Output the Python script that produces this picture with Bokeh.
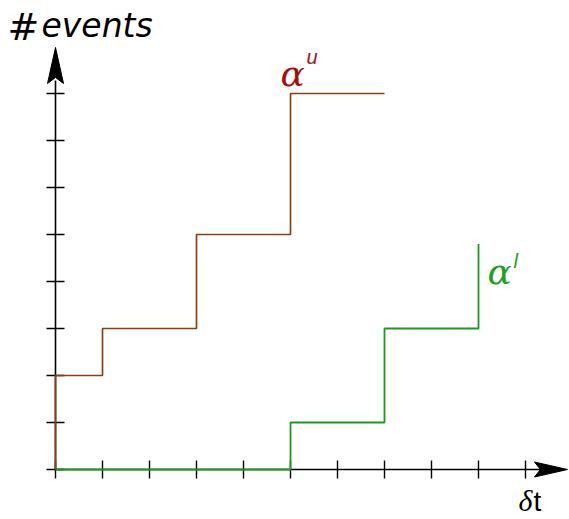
from bokeh.plotting import figure
from bokeh.models import Range1d, FixedTicker
from bokeh.core.properties import value
from bokeh.embed import file_html
from bokeh.resources import INLINE

# ---- data ----
x_ticks = list(range(0, 11))
y_ticks = list(range(0, 9))
upper_dt = [0, 0, 1, 3, 5, 7]
upper_events = [0, 2, 3, 5, 8, 8]
lower_dt = [0, 5, 7, 9]
lower_events = [0, 1, 3, 4.8]
y_title_hash = "#"
y_title_word = "events"
x_title_sym = "δ"
x_title_var = "t"
upper_sym, upper_sup = "α", "u"
lower_sym, lower_sup = "α", "l"

# ---- layout ----
W, H = 569, 519
UNIT = 47.0
OX, OY = 55, 469  # origin in figure pixels (from left / from top)


def X(ix):  # pixel x -> data
    return (ix - OX) / UNIT


def Y(iy):  # pixel y -> data
    return (OY - iy) / UNIT


p = figure(width=W, height=H,
           x_range=Range1d(-OX / UNIT, (W - OX) / UNIT),
           y_range=Range1d(-(H - OY) / UNIT, OY / UNIT),
           min_border=0, outline_line_color=None,
           toolbar_location=None, output_backend="svg")
p.grid.visible = False
p.background_fill_color = "white"
p.border_fill_color = "white"

for ax, ticks, bnd in ((p.xaxis, x_ticks, (0, X(545))), (p.yaxis, y_ticks, (0, Y(80)))):
    ax.fixed_location = 0
    ax.ticker = FixedTicker(ticks=ticks)
    ax.bounds = bnd
    ax.major_tick_in = 9
    ax.major_tick_out = 9
    ax.minor_tick_line_color = None
    ax.major_label_overrides = {t: "" for t in ticks}
    ax.axis_line_width = 1.6
    ax.axis_line_color = "black"
    ax.major_tick_line_width = 1.4
    ax.major_tick_line_color = "black"

# arrow heads (stealth style)
tipx = X(567)
p.patch([tipx, tipx - 33 / UNIT, tipx - 27 / UNIT, tipx - 33 / UNIT],
        [0, 7.5 / UNIT, 0, -7.5 / UNIT], fill_color="black", line_color="black", line_width=1)
tipy = Y(47)
p.patch([0, 8 / UNIT, 0, -8 / UNIT],
        [tipy, tipy - 36 / UNIT, tipy - 30 / UNIT, tipy - 36 / UNIT],
        fill_color="black", line_color="black", line_width=1)

# curves
r1 = p.step(upper_dt, upper_events, mode="after", line_color="#8B3F12", line_width=1.7)
r2 = p.step(lower_dt, lower_events, mode="after", line_color="#1c9a1c", line_width=1.8)
r1.level = "annotation"
r2.level = "annotation"


def label(ix, base_iy, txt, font, size, color="black", style="normal"):
    # compensate renderer baseline offset (~0.33 em)
    p.text(x=[X(ix)], y=[Y(base_iy - 0.33 * size)], text=[txt], text_font=value(font),
           text_font_style=style, text_font_size=f"{size}px", text_color=color,
           text_baseline="alphabetic", text_align="left")


label(7, 39, y_title_hash, "DejaVu Sans", 38)
label(41, 36, y_title_word, "DejaVu Sans", 33, style="italic")

label(518, 510, x_title_sym, "Liberation Serif", 30, style="italic")
label(533, 510, x_title_var, "Liberation Sans", 28)

label(280, 85, upper_sym, "DejaVu Serif", 36, "#a01212", "italic")
label(306, 63, upper_sup, "Liberation Sans", 20, "#a01212", "italic")

label(487, 283, lower_sym, "DejaVu Serif", 36, "#229f22", "italic")
label(513, 267, lower_sup, "Liberation Sans", 20, "#229f22", "italic")

open("out.html", "w").write(file_html(p, INLINE))
